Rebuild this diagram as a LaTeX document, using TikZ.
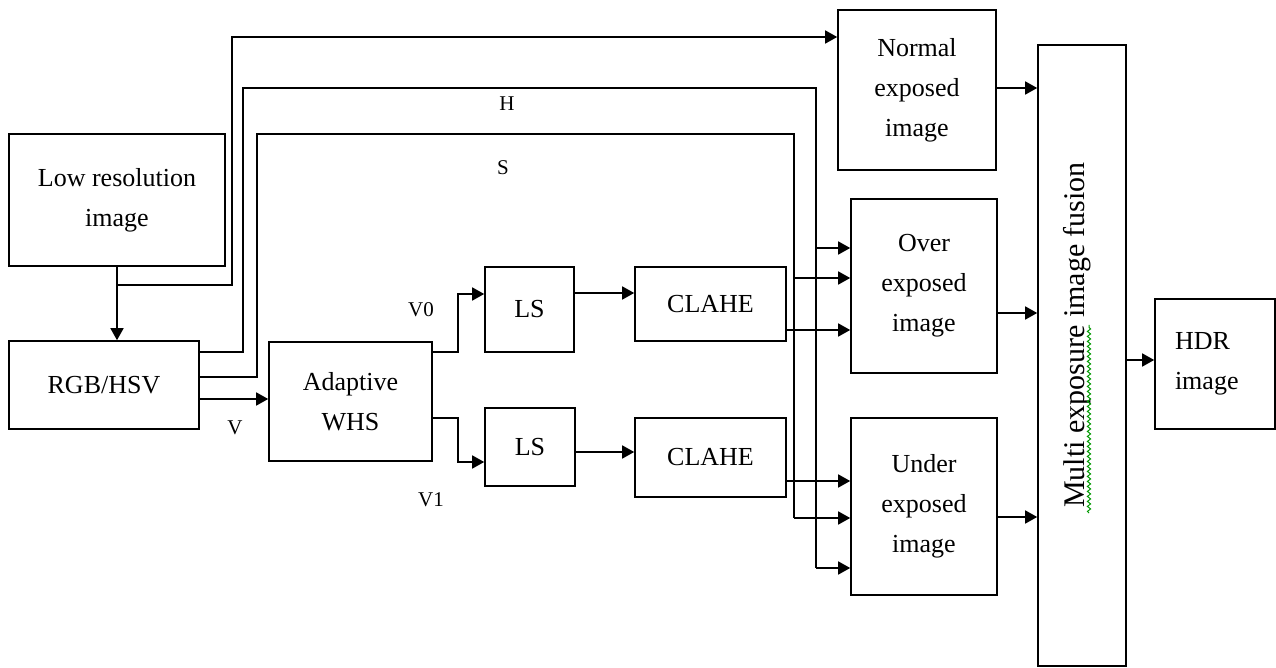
\documentclass[tikz,border=0pt]{standalone}
\usepackage{fontspec}
\setmainfont{Liberation Serif}
\usepackage{tikz}
\usetikzlibrary{arrows.meta,decorations.pathmorphing}

\begin{document}
\begin{tikzpicture}[x=0.5pt,y=-0.5pt,>={Triangle[length=6pt,width=6.5pt]},thick,
  box node/.style={rectangle,draw,fill=white,align=center,inner sep=2pt,font=\fontsize{13}{20}\selectfont},
  tag node/.style={inner sep=0pt,font=\fontsize{10.5}{12}\selectfont}]
  \useasboundingbox (0,0) rectangle (1276,668);

  \node[box node,minimum width=108pt,minimum height=66pt] (low) at (117,200) {Low resolution\\image};
  \node[box node,minimum width=95pt,minimum height=44pt] (rgb) at (104,385) {RGB/HSV};
  \node[box node,minimum width=81.5pt,minimum height=59.5pt] (whs) at (350.5,401.5) {Adaptive\\WHS};
  \node[box node,minimum width=44.5pt,minimum height=42.5pt] (ls0) at (529.5,309.5) {LS};
  \node[box node,minimum width=45pt,minimum height=39pt] (ls1) at (530,447) {LS};
  \node[box node,minimum width=75.5pt,minimum height=37pt] (cl0) at (710.5,304) {CLAHE};
  \node[box node,minimum width=75.5pt,minimum height=39.5pt] (cl1) at (710.5,457.5) {CLAHE};
  \node[box node,minimum width=79pt,minimum height=80pt] (normal) at (917,90) {Normal\\exposed\\image};
  \node[box node,minimum width=73pt,minimum height=87pt] (over) at (924,286) {Over\\exposed\\image};
  \node[box node,minimum width=73pt,minimum height=88.5pt] (under) at (924,506.5) {Under\\exposed\\image};
  \node[box node,minimum width=44pt,minimum height=310.5pt] (fusion) at (1082,355.5) {};
  \node[rotate=90,inner sep=0pt,font=\fontsize{15}{18}\selectfont] (fusiontext) at (1077,335) {Multi exposure image fusion};
  \node[box node,minimum width=60pt,minimum height=65pt,text width=40pt,align=left] (hdr) at (1215,364) {HDR\\image};

  \node[tag node] (h) at (507,104) {H};
  \node[tag node] (s) at (503,168) {S};
  \node[tag node] (v) at (235,428) {V};
  \node[tag node] (v0) at (421,310) {V0};
  \node[tag node] (v1) at (431,500) {V1};

  % input splits to RGB/HSV and to the normal exposed image
  \draw[->] (low.south) -- (low.south |- rgb.north);
  \coordinate (split) at (117,285);
  \draw[->] (split) -| (232,37) -- (normal.west |- 0,37);

  % H and S channels
  \coordinate (hx) at (816,88);
  \coordinate (sx) at (794,134);
  \draw (rgb.east |- 0,352) -| (243,88) -- (hx) -- (hx |- 0,568);
  \draw (rgb.east |- 0,377) -| (257,134) -- (sx) -- (sx |- 0,518);

  % V channel
  \draw[->] (whs.east |- 0,352) -| (458,294) -- (ls0.west |- 0,294);
  \draw[->] (whs.east |- 0,418) -| (458,462) -- (ls1.west |- 0,462);

  \path[->]
    (rgb.east |- 0,399) edge (whs.west |- 0,399)
    (ls0.east |- 0,293) edge (cl0.west |- 0,293)
    (ls1.east |- 0,452) edge (cl1.west |- 0,452)
    (hx |- 0,248) edge (over.west |- 0,248)
    (sx |- 0,278) edge (over.west |- 0,278)
    (cl0.east |- 0,330) edge (over.west |- 0,330)
    (cl1.east |- 0,481) edge (under.west |- 0,481)
    (sx |- 0,518) edge (under.west |- 0,518)
    (hx |- 0,568) edge (under.west |- 0,568)
    (normal.east |- 0,88) edge (fusion.west |- 0,88)
    (over.east |- 0,313) edge (fusion.west |- 0,313)
    (under.east |- 0,517) edge (fusion.west |- 0,517)
    (fusion.east |- 0,360) edge (hdr.west |- 0,360);

  % spell check mark under the rotated text
  \draw[line width=0.5pt,green!60!black,decorate,decoration={snake,amplitude=0.8pt,segment length=2.5pt}] (1089,513) -- (1089,325);
\end{tikzpicture}
\end{document}
